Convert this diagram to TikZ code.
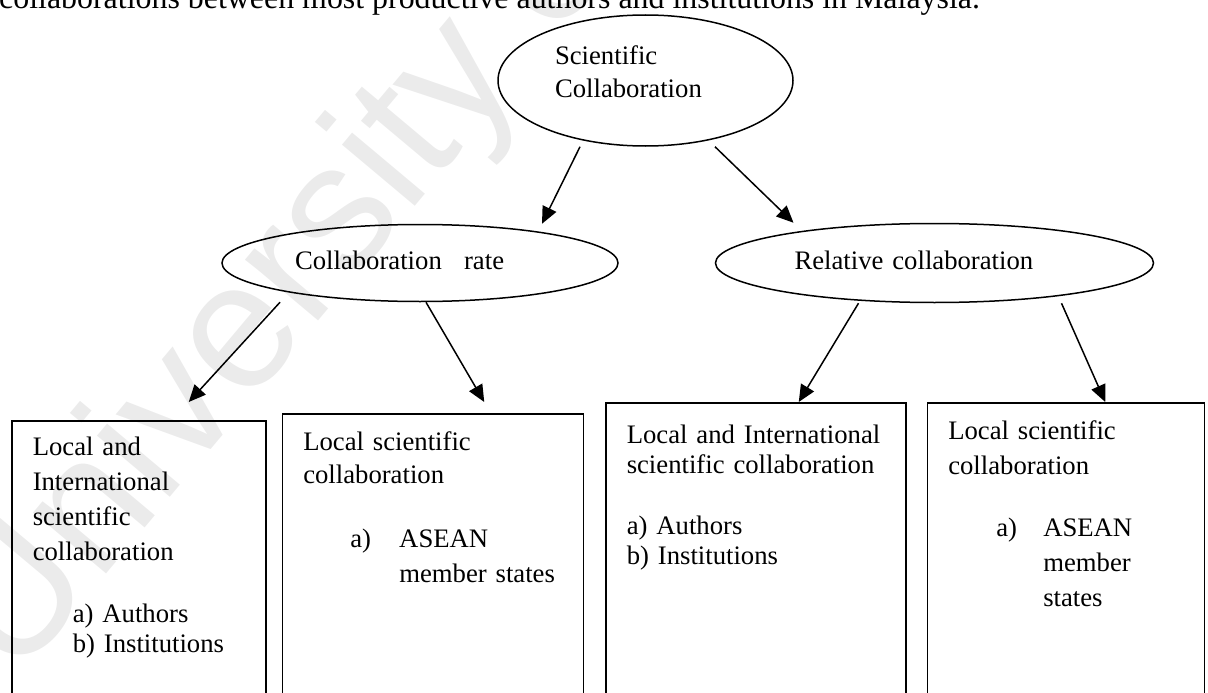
\documentclass[tikz,border=0pt]{standalone}
\usepackage{fontspec}
\setmainfont{Liberation Serif}
\newfontfamily\markfont{Liberation Sans}
\usetikzlibrary{shapes.geometric, arrows.meta, positioning}

\begin{document}
\begin{tikzpicture}[x=1pt, y=-1pt, font=\fontsize{26.7pt}{35pt}\selectfont,
		oval/.style={draw, ellipse, line width=1.5pt, inner sep=0pt, align=left, text depth=6pt},
		panel/.style={draw, rectangle, line width=1.5pt, anchor=north west, align=left, inner xsep=21pt, inner ysep=19pt, text height=18pt, text depth=280pt},
		link/.style={-{Triangle[length=17pt, width=15pt]}, line width=1.5pt}]
	\clip (0,0) rectangle (1208,693);
	\node[text=black!8, font=\markfont\fontsize{180pt}{180pt}\selectfont, rotate=50, anchor=base west, inner sep=0pt] (mark) at (15,683) {University of Malaya};
	\node[anchor=base west, inner sep=0pt, font=\fontsize{31.9pt}{35pt}\selectfont] (intro) at (-1,9) {collaborations between most productive authors and institutions in Malaysia.};
	% top level
	\node[oval, minimum width=295pt, minimum height=131pt, text width=181pt, text height=18pt, text depth=49pt] (sci) at (645.5,80.5) {Scientific\\[-2pt]Collaboration};
	\node[oval, minimum width=396pt, minimum height=77pt, text width=250pt, below=77pt of sci, xshift=-225.5pt] (rate) {Collaboration\hspace{0.5em} rate};
	\node[oval, minimum width=438pt, minimum height=79pt, text width=280pt, right=96pt of rate] (rel) {Relative collaboration};
	% boxes
	\node[panel, text width=212pt, inner ysep=17pt] (rateint) at (11,420) {Local and\\International\\scientific\\collaboration\\[27pt]\hspace*{40pt}a) Authors\\[-5pt]\hspace*{40pt}b) Institutions};
	\node[panel, text width=259pt, right=15pt of rateint.north east, anchor=north west, yshift=7pt] (ratelocal) {Local scientific\\[-2pt]collaboration\\[29pt]\hspace*{47pt}\makebox[49pt][l]{a)}ASEAN\\\hspace*{96pt}member states};
	\node[panel, text width=258pt, inner ysep=23pt, font=\fontsize{26.7pt}{30pt}\selectfont, right=21pt of ratelocal.north east, anchor=north west, yshift=11pt] (relint) {Local and International\\scientific collaboration\\[31pt]a) Authors\\b) Institutions};
	\node[panel, text width=235pt, right=20pt of relint.north east, anchor=north west] (rellocal) {Local scientific\\collaboration\\[27pt]\hspace*{48pt}\makebox[47pt][l]{a)}ASEAN\\\hspace*{95pt}member\\\hspace*{95pt}states};
	% arrows
	\draw[link] ([xshift=-65.5pt]sci.south) -- ([xshift=122pt]rate.north);
	\draw[link] ([xshift=69.5pt]sci.south) -- ([xshift=-141pt]rel.north);
	\draw[link] ([xshift=-140pt]rate.south) -- ([xshift=50pt, yshift=18pt]rateint.north);
	\draw[link] ([xshift=6pt]rate.south) -- ([xshift=51.5pt, yshift=11pt]ratelocal.north);
	\draw[link] ([xshift=-76pt]rel.south) -- ([xshift=43pt]relint.north);
	\draw[link] ([xshift=127pt]rel.south) -- ([xshift=39.5pt]rellocal.north);
\end{tikzpicture}
\end{document}
